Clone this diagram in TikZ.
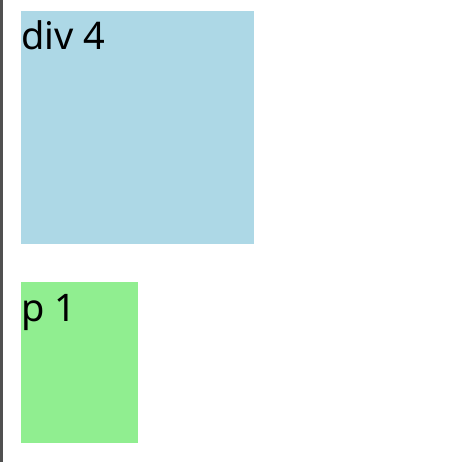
\documentclass[tikz,border=0pt]{standalone}
\usepackage{fontspec}
\setmainfont{Noto Sans}
\definecolor{boxblue}{HTML}{ADD8E6}
\definecolor{boxgreen}{HTML}{90EE90}
\definecolor{edgegray}{HTML}{505050}
\tikzset{
  blockbox/.style={inner sep=0pt, outer sep=0pt},
  blocklabel/.style={anchor=base west, inner sep=0pt, font=\fontsize{38}{42}\selectfont, text=black}
}
\begin{document}
\begin{tikzpicture}[x=1pt,y=-1pt]
\useasboundingbox[fill=white] (0,0) rectangle (468,462);
\fill[edgegray] (0,0) rectangle (3,462);
\fill[boxblue] (21,11) rectangle (254,244);
\node[blocklabel] (divlabel) at (21,50) {div 4};
\fill[boxgreen] (21,282) rectangle (138,443);
\node[blocklabel] (plabel) at (21,321) {p 1};
\end{tikzpicture}
\end{document}
